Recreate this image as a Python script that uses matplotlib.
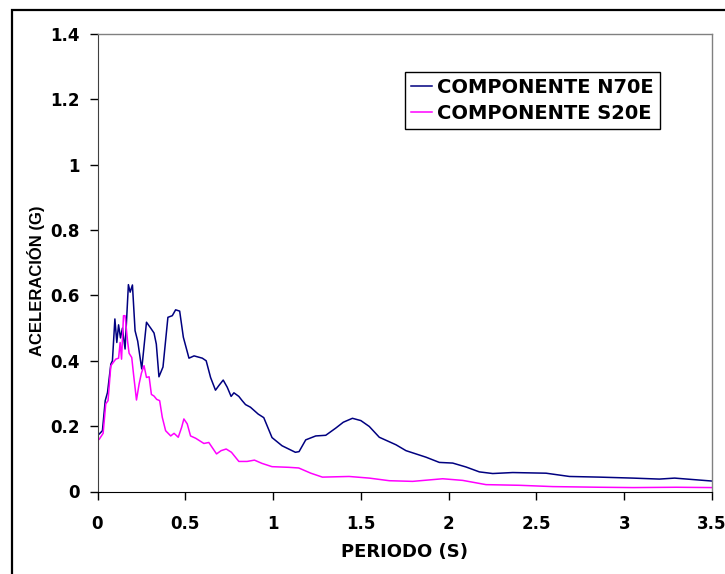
import matplotlib
matplotlib.use('Agg')
from matplotlib import pyplot as plt
from matplotlib.patches import Rectangle

plt.rcParams['font.family'] = ['DejaVu Sans']
plt.rcParams['font.weight'] = 'bold'

# componente N70E
t_n70e = [0.01, 0.028, 0.044, 0.057, 0.076, 0.085, 0.099, 0.110, 0.120, 0.131, 0.142, 0.157,
          0.176, 0.186, 0.199, 0.214, 0.229, 0.252, 0.279, 0.303, 0.322, 0.335, 0.350, 0.373,
          0.401, 0.426, 0.445, 0.468, 0.489, 0.521, 0.550, 0.597, 0.619, 0.644, 0.672, 0.691,
          0.716, 0.739, 0.761, 0.777, 0.805, 0.824, 0.843, 0.871, 0.915, 0.947, 0.994, 1.051,
          1.127, 1.148, 1.186, 1.243, 1.300, 1.357, 1.400, 1.452, 1.500, 1.548, 1.605, 1.700,
          1.757, 1.871, 1.947, 2.023, 2.099, 2.175, 2.251, 2.365, 2.555, 2.688, 2.859, 3.050,
          3.200, 3.287, 3.500]
a_n70e = [0.176, 0.186, 0.278, 0.303, 0.390, 0.400, 0.528, 0.456, 0.510, 0.470, 0.500, 0.436,
          0.633, 0.610, 0.632, 0.492, 0.460, 0.375, 0.518, 0.500, 0.485, 0.451, 0.351, 0.381,
          0.533, 0.538, 0.556, 0.552, 0.472, 0.408, 0.415, 0.408, 0.400, 0.349, 0.310, 0.324,
          0.341, 0.319, 0.291, 0.302, 0.291, 0.278, 0.266, 0.258, 0.237, 0.226, 0.165, 0.140,
          0.120, 0.122, 0.158, 0.170, 0.172, 0.194, 0.212, 0.224, 0.217, 0.199, 0.166, 0.143,
          0.125, 0.105, 0.089, 0.087, 0.075, 0.060, 0.055, 0.058, 0.056, 0.046, 0.044, 0.041,
          0.038, 0.041, 0.032]

# componente S20E
t_s20e = [0.01, 0.032, 0.047, 0.060, 0.076, 0.104, 0.120, 0.129, 0.137, 0.148, 0.157, 0.171,
          0.180, 0.195, 0.205, 0.222, 0.237, 0.250, 0.265, 0.279, 0.294, 0.307, 0.322, 0.337,
          0.354, 0.369, 0.388, 0.417, 0.436, 0.460, 0.479, 0.492, 0.511, 0.530, 0.559, 0.606,
          0.634, 0.678, 0.704, 0.733, 0.763, 0.805, 0.852, 0.894, 0.937, 0.994, 1.089, 1.146,
          1.215, 1.281, 1.433, 1.548, 1.662, 1.795, 1.966, 2.080, 2.213, 2.403, 2.593, 2.859,
          3.050, 3.297, 3.500]
a_s20e = [0.160, 0.178, 0.268, 0.278, 0.385, 0.405, 0.408, 0.456, 0.405, 0.538, 0.538, 0.461,
          0.423, 0.410, 0.360, 0.280, 0.329, 0.362, 0.385, 0.349, 0.351, 0.297, 0.292, 0.282,
          0.278, 0.227, 0.186, 0.170, 0.178, 0.166, 0.196, 0.222, 0.207, 0.170, 0.163, 0.147,
          0.150, 0.115, 0.125, 0.130, 0.120, 0.092, 0.092, 0.096, 0.086, 0.076, 0.074, 0.072,
          0.056, 0.044, 0.046, 0.041, 0.033, 0.031, 0.039, 0.034, 0.021, 0.019, 0.015, 0.013,
          0.012, 0.013, 0.012]

x_ticks = [0, 0.5, 1, 1.5, 2, 2.5, 3, 3.5]
x_labels = ['0', '0.5', '1', '1.5', '2', '2.5', '3', '3.5']
y_ticks = [0, 0.2, 0.4, 0.6, 0.8, 1.0, 1.2, 1.4]
y_labels = ['0', '0.2', '0.4', '0.6', '0.8', '1', '1.2', '1.4']

fig = plt.figure(figsize=(7.25, 5.74), dpi=100)
ax = fig.add_axes([97.5 / 725, 1 - 491.5 / 574, 614.5 / 725, 457.5 / 574])

ax.plot(t_n70e, a_n70e, color='#000080', lw=1.1, label='COMPONENTE N70E')
ax.plot(t_s20e, a_s20e, color='#FF00FF', lw=1.1, label='COMPONENTE S20E')

ax.set_xlim(0, 3.5)
ax.set_ylim(0, 1.4)
ax.set_xticks(x_ticks)
ax.set_xticklabels(x_labels)
ax.set_yticks(y_ticks)
ax.set_yticklabels(y_labels)
ax.tick_params(direction='out', length=6, width=1, labelsize=12)
ax.tick_params(axis='x', pad=11)
ax.tick_params(axis='y', pad=6.8)
for lab in ax.get_xticklabels() + ax.get_yticklabels():
    lab.set_fontweight('bold')

for side in ['top', 'right']:
    ax.spines[side].set_color('#808080')
    ax.spines[side].set_linewidth(1)
ax.spines['left'].set_color('#404040')
ax.spines['bottom'].set_color('black')

ax.set_xlabel('PERIODO (S)', fontsize=13, fontweight='bold', va='top')
ax.xaxis.set_label_coords(0.5, -0.1126)
ax.set_ylabel('ACELERACIÓN (G)', fontsize=12, fontweight='bold',
              family=['Liberation Sans', 'DejaVu Sans'])
ax.yaxis.set_label_coords(-0.086, 0.46)

leg = ax.legend(loc='upper left', bbox_to_anchor=(0.5004, 0.917), borderaxespad=0,
                handlelength=1.08, handletextpad=0.26, borderpad=0.32,
                labelspacing=0.36, fancybox=False, framealpha=1, edgecolor='black',
                prop={'weight': 'bold', 'size': 14})
leg.get_frame().set_linewidth(1)

# marco exterior del grafico
fig.patches.append(Rectangle((12 / 725, -0.1), 1.2, 1 - 10 / 574 + 0.1, transform=fig.transFigure,
                             fill=False, edgecolor='black', linewidth=1.6))

plt.savefig('out.png', dpi=100)
